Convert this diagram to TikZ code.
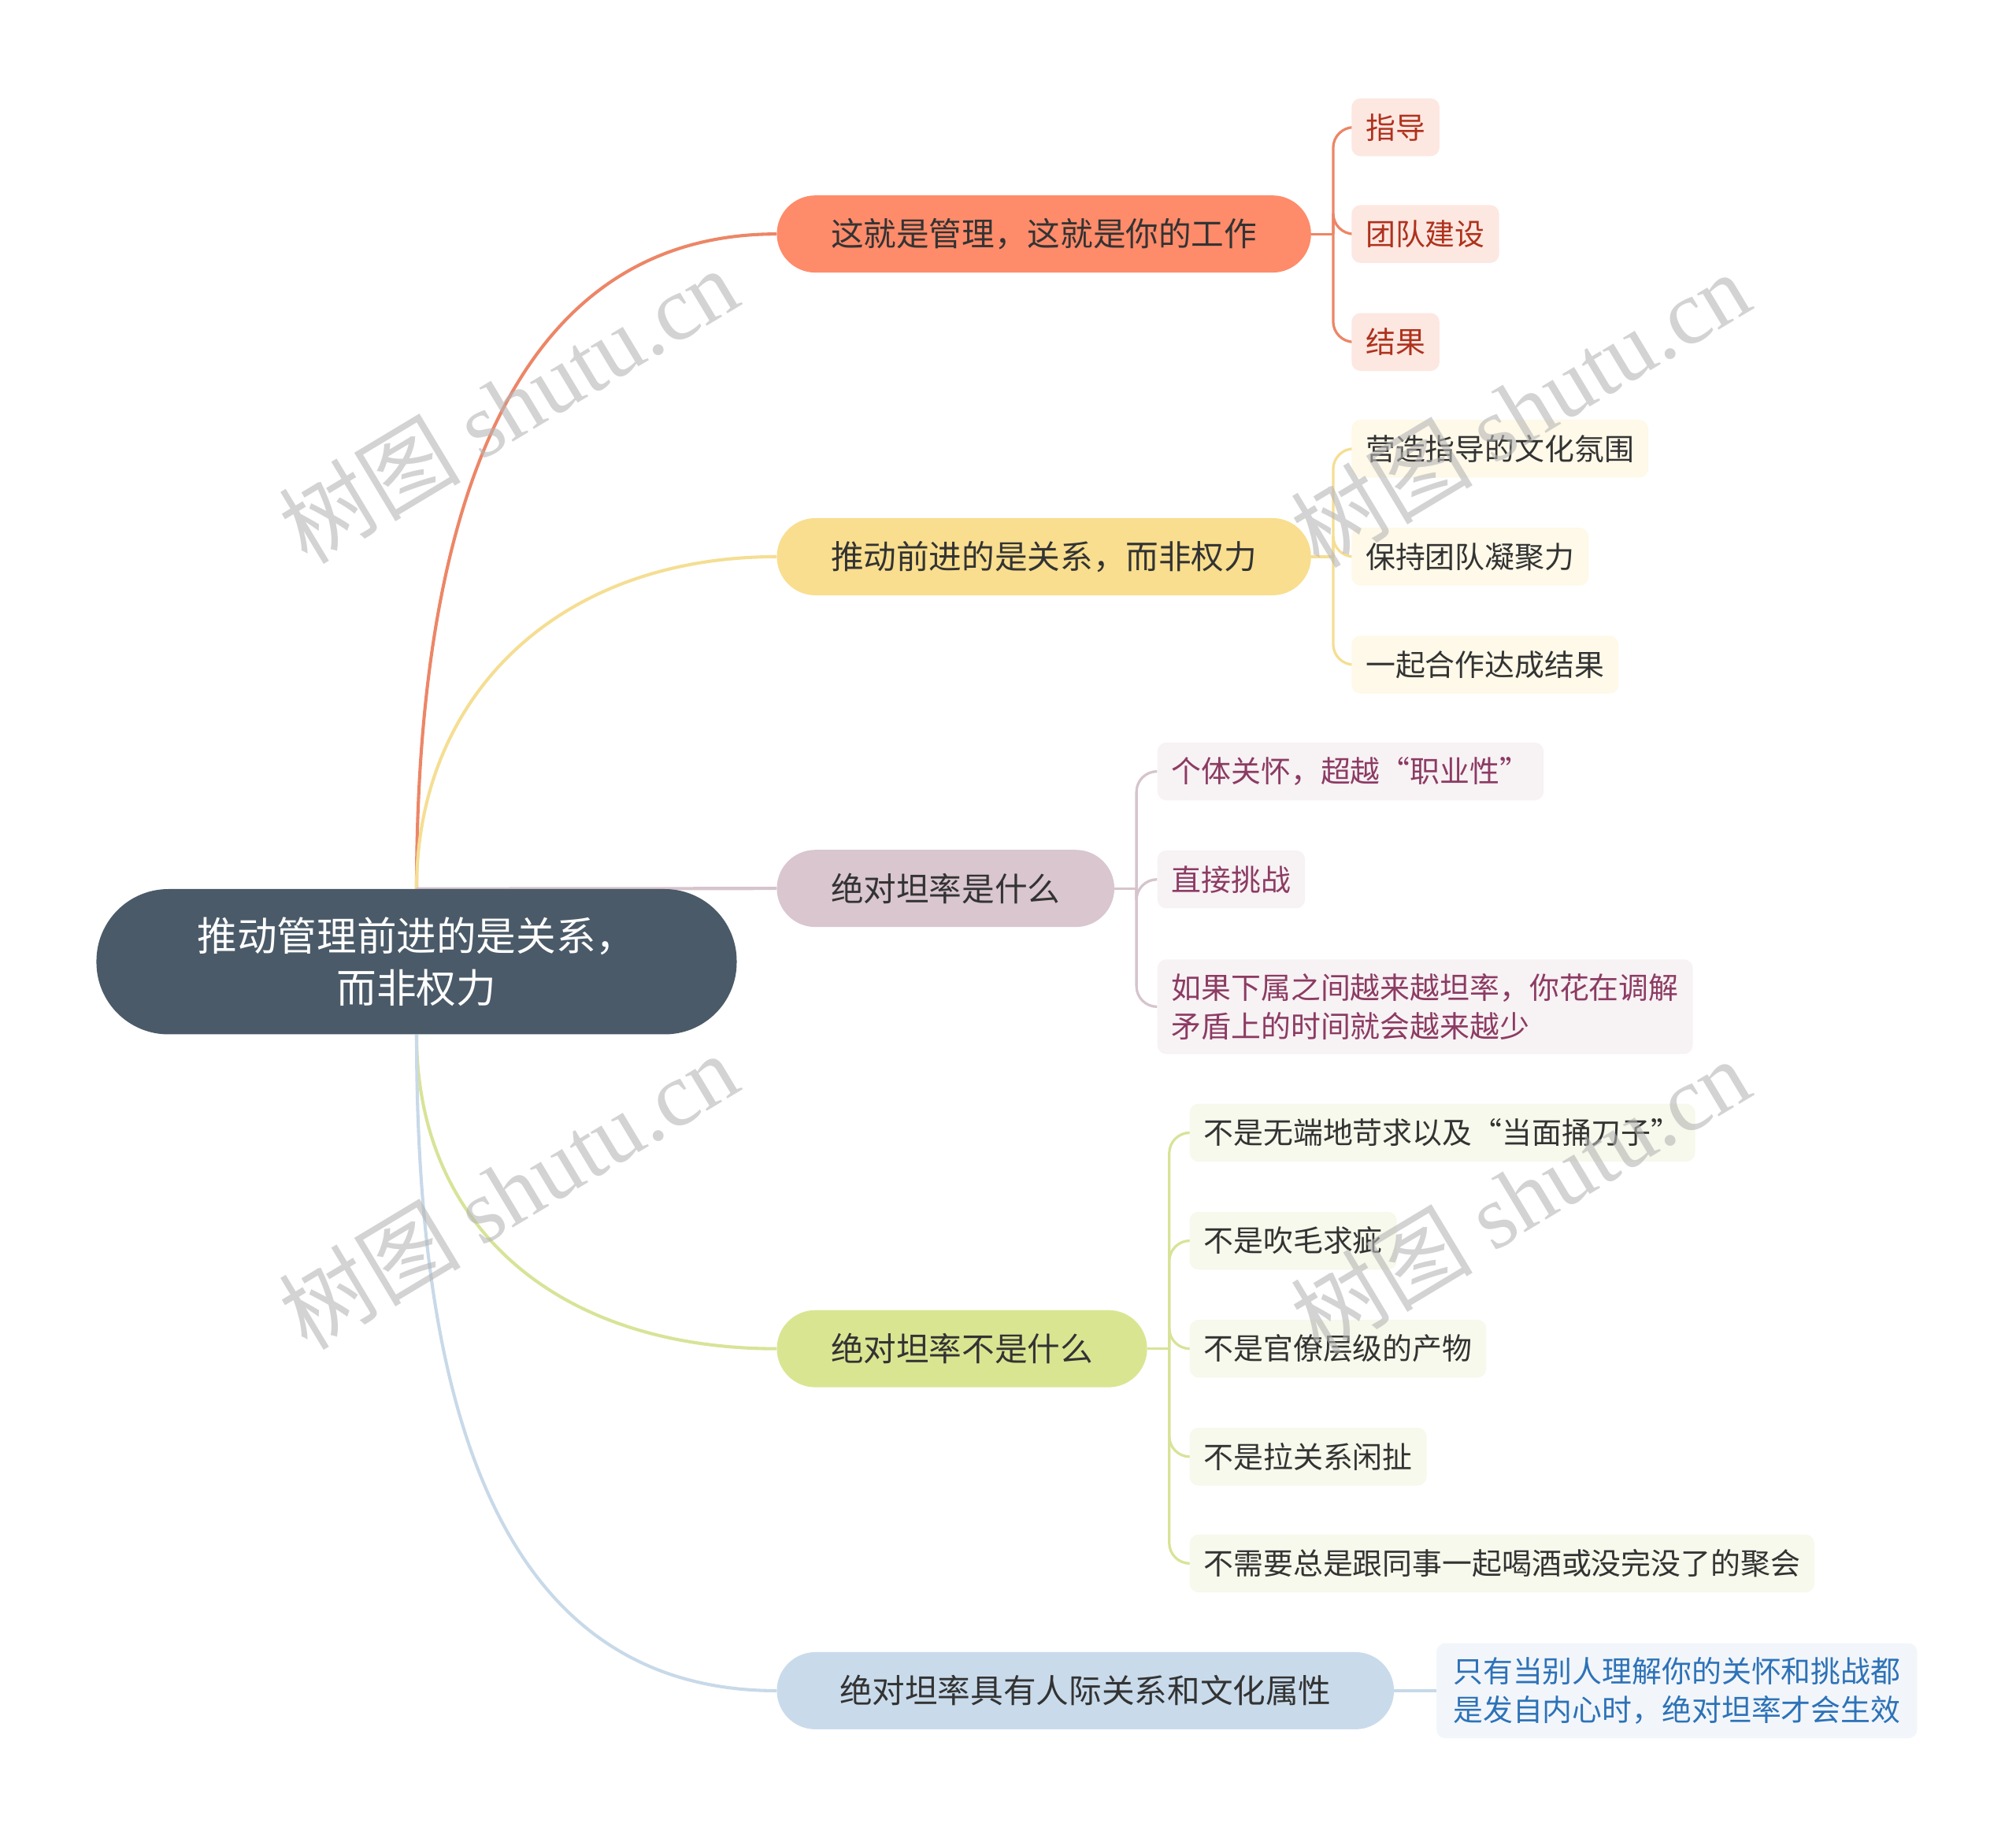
\documentclass[tikz,border=0pt]{standalone}
\usepackage{fontspec}
\setmainfont{Noto Sans CJK SC}
\newfontfamily\cjkmark{Noto Sans CJK SC}
\newfontfamily\latinmark{Liberation Serif}
\usetikzlibrary{backgrounds}

% Colours
\definecolor{rootfill}{HTML}{4A5A68}
\definecolor{textdark}{HTML}{333333}
\definecolor{onefill}{HTML}{FE8B6A}
\definecolor{oneline}{HTML}{EC8667}
\definecolor{oneleaf}{HTML}{FDE7E1}
\definecolor{onetext}{HTML}{AE321D}
\definecolor{twofill}{HTML}{F8DE8E}
\definecolor{twoline}{HTML}{F5DE93}
\definecolor{twoleaf}{HTML}{FEF9E8}
\definecolor{threefill}{HTML}{D9C6CF}
\definecolor{threeline}{HTML}{D6C4CD}
\definecolor{threeleaf}{HTML}{F7F2F4}
\definecolor{threetext}{HTML}{8C3B63}
\definecolor{fourfill}{HTML}{DAE592}
\definecolor{fourline}{HTML}{D8E398}
\definecolor{fourleaf}{HTML}{F6F9EB}
\definecolor{fivefill}{HTML}{C9DBEB}
\definecolor{fiveline}{HTML}{C8D9E8}
\definecolor{fiveleaf}{HTML}{F2F6FA}
\definecolor{fivetext}{HTML}{2D72B8}
\definecolor{markgrey}{HTML}{B5B5B5}

\begin{document}
\begin{tikzpicture}[
    x=1pt, y=-1pt,
    rootbox/.style={fill=rootfill, text=white, rounded corners=56pt, minimum width=498pt,
        minimum height=113pt, align=center, font=\fontsize{31}{40}\selectfont}, % central topic
    topic/.style={rounded corners=30pt, minimum height=60pt, inner xsep=42pt, anchor=west,
        text=textdark, font=\fontsize{25.5}{30}\selectfont}, % main branches
    leaf/.style={rounded corners=7pt, minimum height=45pt, inner xsep=11pt, inner ysep=11pt,
        anchor=west, align=left, font=\fontsize{23.2}{30}\selectfont}, % sub topics
    link/.style={line width=2.5pt},
    spine/.style={line width=2pt, rounded corners=16pt},
    watermark/.style={text=markgrey, opacity=0.6, rotate=31, font=\fontsize{71}{71}\selectfont}
]

\useasboundingbox (0,0) rectangle (1568,1429);

% Central topic
\node[rootbox] (root) at (324,748) {推动管理前进的是关系，\\而非权力};

% Branch 1
\node[topic, fill=onefill] (b1) at (604,182) {这就是管理，这就是你的工作};
\node[leaf, fill=oneleaf, text=onetext] (b1c1) at (1051,99) {指导};
\node[leaf, fill=oneleaf, text=onetext] (b1c2) at (1051,182) {团队建设};
\node[leaf, fill=oneleaf, text=onetext] (b1c3) at (1051,266) {结果};

% Branch 2
\node[topic, fill=twofill] (b2) at (604,433) {推动前进的是关系，而非权力};
\node[leaf, fill=twoleaf, text=textdark] (b2c1) at (1051,349) {营造指导的文化氛围};
\node[leaf, fill=twoleaf, text=textdark] (b2c2) at (1051,433) {保持团队凝聚力};
\node[leaf, fill=twoleaf, text=textdark] (b2c3) at (1051,517) {一起合作达成结果};

% Branch 3
\node[topic, fill=threefill] (b3) at (604,691) {绝对坦率是什么};
\node[leaf, fill=threeleaf, text=threetext] (b3c1) at (900,600) {个体关怀，超越“职业性”};
\node[leaf, fill=threeleaf, text=threetext] (b3c2) at (900,684) {直接挑战};
\node[leaf, fill=threeleaf, text=threetext] (b3c3) at (900,783) {如果下属之间越来越坦率，你花在调解\\矛盾上的时间就会越来越少};

% Branch 4
\node[topic, fill=fourfill] (b4) at (604,1049) {绝对坦率不是什么};
\node[leaf, fill=fourleaf, text=textdark] (b4c1) at (925,881) {不是无端地苛求以及“当面捅刀子”};
\node[leaf, fill=fourleaf, text=textdark] (b4c2) at (925,965) {不是吹毛求疵};
\node[leaf, fill=fourleaf, text=textdark] (b4c3) at (925,1049) {不是官僚层级的产物};
\node[leaf, fill=fourleaf, text=textdark] (b4c4) at (925,1133) {不是拉关系闲扯};
\node[leaf, fill=fourleaf, text=textdark] (b4c5) at (925,1216) {不需要总是跟同事一起喝酒或没完没了的聚会};

% Branch 5
\node[topic, fill=fivefill, minimum width=480pt] (b5) at (604,1315) {绝对坦率具有人际关系和文化属性};
\node[leaf, fill=fiveleaf, text=fivetext, inner xsep=13pt] (b5c1) at (1117,1315) {只有当别人理解你的关怀和挑战都\\是发自内心时，绝对坦率才会生效};

% Connectors behind the boxes
\begin{scope}[on background layer]
\draw[link, oneline] (root.north) .. controls +(0,-240) and +(-230,0) .. (b1.west);
\draw[link, twoline] (root.north) .. controls +(0,-150) and +(-170,0) .. (b2.west);
\draw[link, threeline] (root.north) -- (b3.west);
\draw[link, fourline] (root.south) .. controls +(0,150) and +(-170,0) .. (b4.west);
\draw[link, fiveline] (root.south) .. controls +(0,260) and +(-230,0) .. (b5.west);

% Spines to the sub topics
\path (b1.east) ++(17,0) coordinate (b1s);
\path (b2.east) ++(17,0) coordinate (b2s);
\path (b3.east) ++(17,0) coordinate (b3s);
\path (b4.east) ++(17,0) coordinate (b4s);
\draw[spine, oneline] (b1.east) -- (b1s);
\draw[spine, twoline] (b2.east) -- (b2s);
\draw[spine, threeline] (b3.east) -- (b3s);
\draw[spine, fourline] (b4.east) -- (b4s);
\foreach \c in {b1c1,b1c2,b1c3} \draw[spine, oneline] (b1s) |- (\c.west);
\foreach \c in {b2c1,b2c2,b2c3} \draw[spine, twoline] (b2s) |- (\c.west);
\foreach \c in {b3c1,b3c2,b3c3} \draw[spine, threeline] (b3s) |- (\c.west);
\foreach \c in {b4c1,b4c2,b4c3,b4c4,b4c5} \draw[spine, fourline] (b4s) |- (\c.west);
\draw[spine, fiveline] (b5.east) -- (b5c1.west);
\end{scope}

% Watermarks
\node[watermark] (wm1) at (395,315) {\cjkmark 树图 \latinmark shutu.cn};
\node[watermark] (wm2) at (1182,318) {\cjkmark 树图 \latinmark shutu.cn};
\node[watermark] (wm3) at (395,926) {\cjkmark 树图 \latinmark shutu.cn};
\node[watermark] (wm4) at (1182,930) {\cjkmark 树图 \latinmark shutu.cn};

\end{tikzpicture}
\end{document}
